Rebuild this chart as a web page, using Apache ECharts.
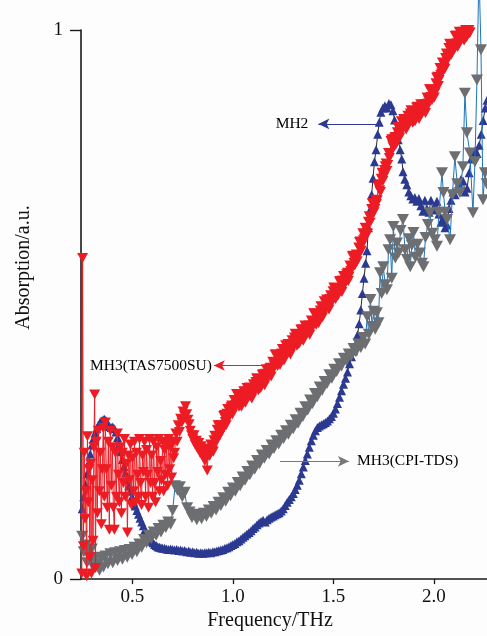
<!DOCTYPE html>
<html>
<head>
<meta charset="utf-8">
<script src="https://cdn.jsdelivr.net/npm/echarts@6/dist/echarts.min.js"></script>
<style>
  html, body { margin: 0; padding: 0; background: #fdfdfd; }
  #chart { width: 487px; height: 636px; }
</style>
</head>
<body>
<div id="chart"></div>
<script>
// Frequency (THz) / absorption (a.u.) pairs for each spectrum
const mh2 = [
  [0.250,0.128],[0.258,0.150],[0.266,0.172],[0.274,0.192],[0.282,0.212],[0.290,0.228],[0.298,0.244],[0.306,0.256],
  [0.314,0.266],[0.322,0.274],[0.330,0.280],[0.338,0.285],[0.346,0.288],[0.354,0.290],[0.362,0.291],[0.370,0.288],
  [0.378,0.283],[0.386,0.278],[0.394,0.276],[0.402,0.277],[0.410,0.274],[0.418,0.268],[0.426,0.258],[0.434,0.246],
  [0.442,0.232],[0.450,0.218],[0.458,0.205],[0.466,0.193],[0.474,0.181],[0.482,0.170],[0.490,0.160],[0.498,0.150],
  [0.506,0.141],[0.514,0.133],[0.522,0.125],[0.530,0.118],[0.538,0.111],[0.546,0.104],[0.554,0.097],[0.562,0.090],
  [0.570,0.084],[0.578,0.078],[0.586,0.073],[0.594,0.069],[0.602,0.066],[0.610,0.063],[0.618,0.061],[0.626,0.059],
  [0.634,0.058],[0.642,0.057],[0.650,0.056],[0.660,0.056],[0.670,0.055],[0.680,0.054],[0.690,0.055],[0.700,0.054],
  [0.710,0.053],[0.720,0.054],[0.730,0.052],[0.740,0.053],[0.750,0.051],[0.760,0.052],[0.770,0.050],[0.780,0.051],
  [0.790,0.049],[0.800,0.050],[0.810,0.048],[0.820,0.049],[0.830,0.047],[0.840,0.048],[0.850,0.047],[0.860,0.048],
  [0.870,0.048],[0.880,0.049],[0.890,0.048],[0.900,0.050],[0.910,0.050],[0.920,0.051],[0.930,0.052],[0.940,0.053],
  [0.950,0.054],[0.960,0.056],[0.970,0.057],[0.980,0.059],[0.990,0.061],[1.000,0.063],[1.010,0.065],[1.020,0.068],
  [1.030,0.070],[1.040,0.073],[1.050,0.076],[1.060,0.079],[1.070,0.082],[1.080,0.085],[1.090,0.088],[1.100,0.092],
  [1.110,0.095],[1.120,0.099],[1.130,0.102],[1.140,0.105],[1.150,0.107],[1.160,0.104],[1.170,0.108],[1.180,0.111],
  [1.190,0.113],[1.200,0.115],[1.210,0.117],[1.220,0.119],[1.230,0.121],[1.240,0.124],[1.250,0.128],[1.260,0.134],
  [1.270,0.140],[1.280,0.145],[1.290,0.150],[1.300,0.156],[1.310,0.163],[1.320,0.171],[1.330,0.180],[1.340,0.192],
  [1.350,0.204],[1.360,0.216],[1.370,0.228],[1.380,0.240],[1.390,0.252],[1.400,0.262],[1.410,0.270],[1.420,0.276],
  [1.430,0.279],[1.440,0.281],[1.450,0.283],[1.460,0.285],[1.470,0.288],[1.480,0.292],[1.490,0.296],[1.500,0.302],
  [1.510,0.310],[1.520,0.320],[1.530,0.331],[1.540,0.343],[1.550,0.355],[1.560,0.366],[1.570,0.377],[1.580,0.392],
  [1.590,0.405],[1.600,0.416],[1.610,0.427],[1.620,0.445],[1.628,0.465],[1.636,0.490],[1.644,0.520],[1.652,0.548],
  [1.660,0.575],[1.667,0.598],[1.674,0.640],[1.682,0.672],[1.690,0.700],[1.697,0.730],[1.704,0.760],[1.712,0.782],
  [1.720,0.810],[1.728,0.832],[1.736,0.850],[1.746,0.858],[1.756,0.862],[1.766,0.858],[1.776,0.866],[1.786,0.864],
  [1.796,0.853],[1.804,0.836],[1.812,0.815],[1.822,0.800],[1.832,0.782],[1.840,0.765],[1.846,0.742],[1.855,0.728],
  [1.865,0.718],[1.875,0.705],[1.885,0.698],[1.895,0.692],[1.905,0.695],[1.915,0.688],[1.925,0.693],[1.935,0.680],
  [1.945,0.670],[1.955,0.690],[1.965,0.675],[1.975,0.668],[1.985,0.690],[1.995,0.672],[2.005,0.680],[2.015,0.688],
  [2.025,0.665],[2.035,0.650],[2.045,0.655],[2.055,0.640],[2.065,0.645],[2.075,0.675],[2.085,0.690],[2.095,0.705],
  [2.105,0.700],[2.115,0.712],[2.125,0.720],[2.135,0.728],[2.145,0.725],[2.155,0.705],[2.165,0.712],[2.175,0.740],
  [2.185,0.765],[2.195,0.778],[2.205,0.780],[2.215,0.775],[2.225,0.790],[2.235,0.810],[2.245,0.835],[2.255,0.858],
  [2.264,0.872]
];

const mh3Tas = [
  [0.248,0.010],[0.252,0.585],[0.256,0.060],[0.260,0.230],[0.264,0.110],[0.268,0.160],[0.272,0.005],[0.276,0.260],
  [0.280,0.140],[0.284,0.200],[0.288,0.040],[0.292,0.210],[0.296,0.010],[0.300,0.180],[0.304,0.070],[0.308,0.240],
  [0.312,0.336],[0.316,0.020],[0.320,0.250],[0.325,0.120],[0.330,0.270],[0.335,0.160],[0.340,0.230],[0.345,0.100],
  [0.350,0.200],[0.355,0.275],[0.360,0.150],[0.365,0.285],[0.370,0.200],[0.375,0.130],[0.380,0.250],[0.385,0.090],
  [0.390,0.270],[0.395,0.170],[0.400,0.240],[0.405,0.130],[0.410,0.090],[0.415,0.230],[0.420,0.150],[0.425,0.265],
  [0.430,0.190],[0.435,0.140],[0.440,0.240],[0.445,0.120],[0.450,0.230],[0.455,0.175],[0.460,0.255],[0.465,0.150],
  [0.470,0.210],[0.475,0.085],[0.480,0.225],[0.485,0.180],[0.490,0.245],[0.495,0.135],[0.500,0.220],[0.505,0.160],
  [0.510,0.250],[0.515,0.140],[0.520,0.230],[0.525,0.190],[0.530,0.150],[0.535,0.255],[0.540,0.175],[0.545,0.135],
  [0.550,0.225],[0.555,0.195],[0.560,0.250],[0.565,0.150],[0.570,0.235],[0.575,0.190],[0.580,0.130],[0.585,0.255],
  [0.590,0.175],[0.595,0.225],[0.600,0.150],[0.605,0.250],[0.610,0.175],[0.615,0.140],[0.620,0.240],[0.625,0.195],
  [0.630,0.255],[0.635,0.160],[0.640,0.215],[0.645,0.180],[0.650,0.250],[0.655,0.160],[0.660,0.235],[0.665,0.190],
  [0.670,0.245],[0.675,0.170],[0.680,0.255],[0.685,0.200],[0.690,0.240],[0.695,0.185],[0.700,0.250],[0.705,0.220],
  [0.710,0.230],[0.716,0.265],[0.722,0.250],[0.728,0.280],[0.734,0.268],[0.740,0.292],[0.746,0.285],[0.752,0.305],
  [0.758,0.298],[0.764,0.315],[0.770,0.300],[0.776,0.290],[0.782,0.282],[0.788,0.270],[0.794,0.262],[0.800,0.255],
  [0.806,0.262],[0.812,0.245],[0.818,0.252],[0.824,0.238],[0.830,0.248],[0.836,0.230],[0.842,0.242],[0.848,0.225],
  [0.854,0.238],[0.860,0.215],[0.866,0.232],[0.872,0.198],
  [0.878,0.237],[0.882,0.224],[0.886,0.226],[0.890,0.245],[0.894,0.244],[0.898,0.234],[0.902,0.232],[0.906,0.253],
  [0.910,0.261],[0.914,0.248],[0.918,0.257],[0.922,0.272],[0.926,0.280],[0.930,0.280],[0.934,0.261],[0.938,0.265],
  [0.942,0.280],[0.946,0.270],[0.950,0.275],[0.954,0.297],[0.958,0.299],[0.962,0.286],[0.966,0.280],[0.970,0.301],
  [0.974,0.310],[0.978,0.293],[0.982,0.298],[0.986,0.309],[0.990,0.313],[0.994,0.316],[0.998,0.300],[1.002,0.307],
  [1.006,0.326],[1.010,0.314],[1.014,0.317],[1.018,0.337],[1.022,0.337],[1.026,0.322],[1.030,0.314],[1.034,0.328],
  [1.038,0.329],[1.042,0.314],[1.046,0.321],[1.050,0.335],[1.054,0.342],[1.058,0.341],[1.062,0.321],[1.066,0.329],
  [1.070,0.348],[1.074,0.332],[1.078,0.332],[1.082,0.349],[1.086,0.345],[1.090,0.333],[1.094,0.329],[1.098,0.348],
  [1.102,0.355],[1.106,0.340],[1.110,0.346],[1.114,0.359],[1.118,0.366],[1.122,0.364],[1.126,0.344],[1.130,0.346],
  [1.134,0.360],[1.138,0.348],[1.142,0.351],[1.146,0.372],[1.150,0.373],[1.154,0.359],[1.158,0.353],[1.162,0.374],
  [1.166,0.382],[1.170,0.364],[1.174,0.368],[1.178,0.379],[1.182,0.383],[1.186,0.385],[1.190,0.369],[1.194,0.377],
  [1.198,0.396],[1.202,0.385],[1.206,0.389],[1.210,0.409],[1.214,0.409],[1.218,0.395],[1.222,0.388],[1.226,0.402],
  [1.230,0.404],[1.234,0.390],[1.238,0.397],[1.242,0.411],[1.246,0.419],[1.250,0.418],[1.254,0.398],[1.258,0.406],
  [1.262,0.426],[1.266,0.411],[1.270,0.411],[1.274,0.428],[1.278,0.424],[1.282,0.413],[1.286,0.409],[1.290,0.428],
  [1.294,0.435],[1.298,0.420],[1.302,0.427],[1.306,0.440],[1.310,0.447],[1.314,0.445],[1.318,0.425],[1.322,0.427],
  [1.326,0.441],[1.330,0.429],[1.334,0.433],[1.338,0.454],[1.342,0.455],[1.346,0.441],[1.350,0.434],[1.354,0.454],
  [1.358,0.462],[1.362,0.444],[1.366,0.447],[1.370,0.457],[1.374,0.460],[1.378,0.462],[1.382,0.445],[1.386,0.452],
  [1.390,0.471],[1.394,0.459],[1.398,0.463],[1.402,0.484],[1.406,0.484],[1.410,0.470],[1.414,0.463],[1.418,0.478],
  [1.422,0.480],[1.426,0.466],[1.430,0.474],[1.434,0.489],[1.438,0.497],[1.442,0.496],[1.446,0.477],[1.450,0.486],
  [1.454,0.506],[1.458,0.491],[1.462,0.492],[1.466,0.509],[1.470,0.505],[1.474,0.494],[1.478,0.491],[1.482,0.510],
  [1.486,0.517],[1.490,0.503],[1.494,0.510],[1.498,0.524],[1.502,0.531],[1.506,0.530],[1.510,0.510],[1.514,0.513],
  [1.518,0.527],[1.522,0.516],[1.526,0.520],[1.530,0.542],[1.534,0.543],[1.538,0.529],[1.542,0.523],[1.546,0.544],
  [1.550,0.552],[1.554,0.535],[1.558,0.540],[1.562,0.551],[1.566,0.555],[1.570,0.558],[1.574,0.543],[1.578,0.551],
  [1.582,0.571],[1.586,0.561],[1.590,0.566],[1.594,0.588],[1.598,0.589],[1.602,0.576],[1.606,0.571],[1.610,0.587],
  [1.614,0.591],[1.618,0.579],[1.622,0.588],[1.626,0.604],[1.630,0.614],[1.634,0.615],[1.638,0.598],[1.642,0.608],
  [1.646,0.630],[1.650,0.617],[1.654,0.620],[1.658,0.640],[1.662,0.639],[1.666,0.630],[1.670,0.629],[1.674,0.651],
  [1.678,0.661],[1.682,0.649],[1.686,0.658],[1.690,0.674],[1.694,0.684],[1.698,0.685],[1.702,0.668],[1.706,0.674],
  [1.710,0.691],[1.714,0.683],[1.718,0.690],[1.722,0.715],[1.726,0.719],[1.730,0.708],[1.734,0.705],[1.738,0.729],
  [1.742,0.740],[1.746,0.725],[1.750,0.732],[1.754,0.745],[1.758,0.752],[1.762,0.757],[1.766,0.743],[1.770,0.754],
  [1.774,0.776],[1.778,0.767],[1.782,0.774],[1.786,0.798],[1.790,0.801],[1.794,0.790],[1.798,0.786],[1.802,0.802],
  [1.806,0.805],[1.810,0.791],[1.814,0.799],[1.818,0.814],[1.822,0.823],[1.826,0.823],[1.830,0.804],[1.834,0.813],
  [1.838,0.834],[1.842,0.820],[1.846,0.821],[1.850,0.838],[1.854,0.835],[1.858,0.823],[1.862,0.819],[1.866,0.838],
  [1.870,0.844],[1.874,0.829],[1.878,0.835],[1.882,0.848],[1.886,0.854],[1.890,0.852],[1.894,0.831],[1.898,0.833],
  [1.902,0.846],[1.906,0.834],[1.910,0.838],[1.914,0.859],[1.918,0.860],[1.922,0.845],[1.926,0.838],[1.930,0.858],
  [1.934,0.865],[1.938,0.847],[1.942,0.850],[1.946,0.859],[1.950,0.862],[1.954,0.865],[1.958,0.849],[1.962,0.857],
  [1.966,0.877],[1.970,0.866],[1.974,0.871],[1.978,0.892],[1.982,0.892],[1.986,0.878],[1.990,0.872],[1.994,0.887],
  [1.998,0.890],[2.002,0.877],[2.006,0.886],[2.010,0.903],[2.014,0.913],[2.018,0.915],[2.022,0.898],[2.026,0.909],
  [2.030,0.931],[2.034,0.918],[2.038,0.921],[2.042,0.941],[2.046,0.940],[2.050,0.931],[2.054,0.929],[2.058,0.949],
  [2.062,0.957],[2.066,0.944],[2.070,0.952],[2.074,0.967],[2.078,0.975],[2.082,0.974],[2.086,0.955],[2.090,0.959],
  [2.094,0.974],[2.098,0.963],[2.102,0.968],[2.106,0.989],[2.110,0.990],[2.114,0.976],[2.118,0.969],[2.122,0.989],
  [2.126,0.997],[2.130,0.979],[2.134,0.982],[2.138,0.992],[2.142,0.995],[2.146,0.997],[2.150,0.981],[2.154,0.985],
  [2.158,1.000],[2.162,0.987],[2.166,0.990],[2.170,1.000],[2.174,1.000],[2.177,0.994],[2.180,0.996]
];

const mh3Cpi = [
  [0.250,0.078],[0.258,0.050],[0.266,0.062],[0.274,0.030],[0.282,0.048],[0.290,0.036],[0.298,0.055],[0.306,0.022],
  [0.316,0.040],[0.326,0.028],[0.336,0.016],[0.346,0.038],[0.356,0.022],[0.366,0.042],[0.378,0.028],[0.390,0.046],
  [0.402,0.030],[0.414,0.048],[0.426,0.034],[0.438,0.050],[0.450,0.036],[0.462,0.052],[0.474,0.040],[0.486,0.054],
  [0.498,0.045],[0.510,0.058],[0.522,0.050],[0.534,0.064],[0.546,0.058],[0.558,0.072],[0.570,0.066],[0.582,0.080],
  [0.594,0.074],[0.606,0.086],[0.618,0.080],[0.630,0.092],[0.642,0.086],[0.654,0.098],[0.666,0.094],[0.678,0.104],
  [0.690,0.100],[0.700,0.125],[0.712,0.170],[0.724,0.162],[0.736,0.168],[0.748,0.150],[0.760,0.158],[0.772,0.130],
  [0.784,0.122],[0.796,0.112],[0.808,0.118],[0.820,0.108],[0.832,0.116],[0.844,0.110],[0.856,0.120],[0.868,0.114],
  [0.880,0.126],[0.892,0.120],[0.904,0.132],[0.916,0.126],[0.928,0.140],[0.940,0.134],[0.952,0.148],[0.964,0.142],
  [0.976,0.158],[0.988,0.152],[1.000,0.166],[1.012,0.160],[1.024,0.176],[1.036,0.170],[1.048,0.186],[1.060,0.180],
  [1.072,0.196],[1.084,0.190],[1.096,0.206],[1.108,0.200],[1.120,0.216],[1.132,0.210],[1.144,0.226],[1.156,0.220],
  [1.168,0.234],[1.180,0.228],[1.192,0.244],[1.204,0.238],[1.216,0.252],[1.228,0.246],[1.240,0.262],[1.252,0.256],
  [1.264,0.270],[1.276,0.264],[1.288,0.280],[1.300,0.274],[1.312,0.290],[1.324,0.284],[1.336,0.302],[1.348,0.296],
  [1.360,0.314],[1.372,0.308],[1.384,0.326],[1.396,0.320],[1.408,0.338],[1.420,0.332],[1.432,0.350],[1.444,0.344],
  [1.456,0.360],[1.468,0.356],[1.480,0.372],[1.492,0.366],[1.504,0.382],[1.516,0.378],[1.528,0.392],[1.540,0.388],
  [1.552,0.402],[1.564,0.398],[1.576,0.410],[1.588,0.406],[1.600,0.420],[1.612,0.414],[1.624,0.428],[1.636,0.422],
  [1.648,0.440],[1.658,0.428],[1.668,0.478],[1.676,0.446],[1.684,0.509],[1.692,0.460],[1.700,0.488],[1.708,0.455],
  [1.716,0.485],[1.724,0.467],[1.732,0.558],[1.740,0.520],[1.748,0.569],[1.758,0.536],[1.766,0.527],[1.774,0.600],
  [1.782,0.618],[1.790,0.548],[1.798,0.642],[1.808,0.585],[1.816,0.612],[1.824,0.594],[1.834,0.635],[1.846,0.655],
  [1.856,0.600],[1.866,0.582],[1.876,0.620],[1.882,0.569],[1.890,0.608],[1.898,0.631],[1.908,0.586],[1.918,0.610],
  [1.930,0.594],[1.940,0.575],[1.948,0.569],[1.958,0.622],[1.970,0.646],[1.980,0.667],[1.992,0.630],[2.005,0.618],
  [2.015,0.606],[2.025,0.668],[2.040,0.740],[2.047,0.704],[2.056,0.668],[2.065,0.655],[2.080,0.618],[2.092,0.700],
  [2.104,0.769],[2.116,0.720],[2.129,0.704],[2.144,0.751],[2.154,0.885],[2.164,0.813],[2.179,0.776],[2.194,0.667],
  [2.204,0.760],[2.214,0.909],[2.224,1.110],[2.234,0.964],[2.244,0.691],[2.254,0.740],[2.262,0.720]
];

// Tick marks on the frequency axis
const freqTicks = [0.5, 1.0, 1.5, 2.0];

const serif = '"Liberation Serif", "Times New Roman", serif';
const axisColor = '#1a1a1a';

// Horizontal pointer with its caption placed past the arrow head
function arrow(from, to, color, text, dist) {
  return {
    silent: true,
    symbol: ['none', 'arrow'],
    symbolSize: [8, 11],
    lineStyle: { color: color, width: 1.2, type: 'solid' },
    label: { show: true, position: 'end', formatter: text, distance: dist,
             color: '#000', fontFamily: serif, fontSize: 15.5 },
    emphasis: { disabled: true },
    data: [[{ coord: from }, { coord: to }]]
  };
}

const chart = echarts.init(document.getElementById('chart'), null, { renderer: 'canvas' });
chart.setOption({
  backgroundColor: '#fdfdfd',
  animation: false,
  grid: { left: 81, right: 0, top: 30, bottom: 56, containLabel: false },
  xAxis: {
    type: 'value', min: 0.244, max: 2.264,
    axisLine: { show: true, onZero: false, lineStyle: { color: axisColor, width: 1.5 } },
    axisTick: { show: true, customValues: freqTicks, length: 5, lineStyle: { color: axisColor, width: 1.3 } },
    axisLabel: { customValues: freqTicks, formatter: v => v.toFixed(1), margin: 8,
                 fontSize: 19, fontFamily: serif, color: '#111' },
    splitLine: { show: false },
    name: 'Frequency/THz', nameLocation: 'middle', nameGap: 31,
    nameTextStyle: { fontSize: 20, fontFamily: serif, color: '#111', padding: [0, 28, 0, 0] }
  },
  yAxis: {
    type: 'value', min: 0, max: 1, interval: 1,
    axisLine: { show: true, lineStyle: { color: axisColor, width: 1.6 } },
    axisTick: { show: true, length: 11, lineStyle: { color: axisColor, width: 1.4 } },
    axisLabel: { margin: 18, fontSize: 19, fontFamily: serif, color: '#111' },
    splitLine: { show: false },
    name: 'Absorption/a.u.', nameLocation: 'middle', nameGap: 47, nameRotate: 90,
    nameTextStyle: { fontSize: 20, fontFamily: serif, color: '#111', padding: [0, 0, 0, 74] }
  },
  series: [
    {
      name: 'MH2', type: 'line', data: mh2, z: 2,
      symbol: 'triangle', symbolSize: [9, 9], showAllSymbol: true,
      itemStyle: { color: '#2b3990' },
      lineStyle: { color: '#2a2a2a', width: 1 },
      emphasis: { disabled: true },
      markLine: arrow([1.731, 0.829], [1.425, 0.829], '#2b3990', 'MH2', 10)
    },
    {
      name: 'MH3(CPI-TDS)', type: 'line', data: mh3Cpi, z: 3, clip: false,
      symbol: 'triangle', symbolRotate: 180, symbolSize: [12, 11], showAllSymbol: true,
      itemStyle: { color: '#6d6e71' },
      lineStyle: { color: '#1c75bc', width: 1 },
      emphasis: { disabled: true },
      markLine: arrow([1.234, 0.2145], [1.577, 0.2145], '#777777', 'MH3(CPI-TDS)', 8)
    },
    {
      name: 'MH3(TAS7500SU)', type: 'line', data: mh3Tas, z: 4,
      symbol: 'triangle', symbolRotate: 180, symbolSize: [11, 10], showAllSymbol: true,
      itemStyle: { color: '#ed1c24' },
      lineStyle: { color: '#ed1c24', width: 1 },
      emphasis: { disabled: true },
      markLine: arrow([1.219, 0.389], [0.905, 0.389], '#ed1c24', 'MH3(TAS7500SU)', 2)
    }
  ]
});
</script>
</body>
</html>
